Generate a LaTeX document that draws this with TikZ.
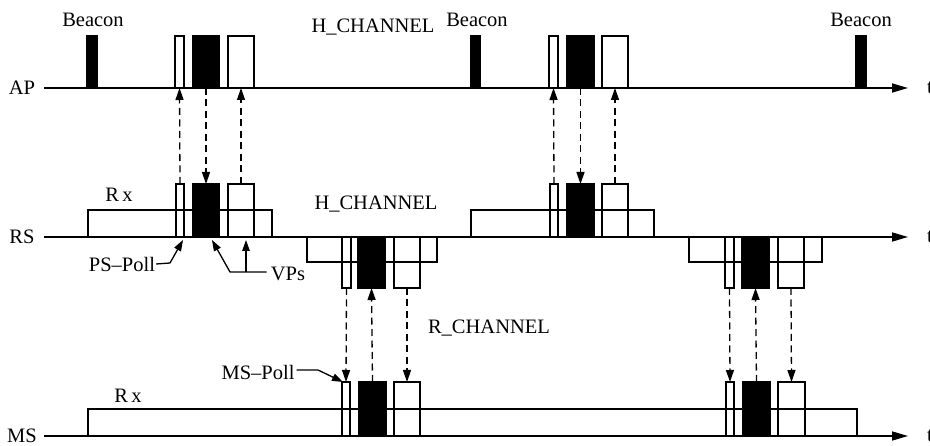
\documentclass[tikz,border=0pt]{standalone}
\usepackage{fontspec}
\setmainfont{Liberation Serif}
\usetikzlibrary{arrows.meta}
\newcommand\pkbox[6]{\node[pkt,#6,minimum width={#3pt-#2pt},minimum height={#5pt-#4pt},anchor=north west] (#1) at (#2,#4) {};}
\begin{document}
\begin{tikzpicture}[x=1pt,y=-1pt,
  lbl/.style={font=\fontsize{20.5}{24}\selectfont, inner sep=0pt},
  pkt/.style={draw, line width=1.4pt, inner sep=0pt, outer sep=0pt},
  blk/.style={fill=black},
  axis/.style={line width=1.6pt, -{Triangle[length=16pt,width=9pt]}},
  dasharr/.style={line width=1.3pt, dash pattern=on 7pt off 4.5pt, -{Triangle[length=12pt,width=8pt]}},
  callout/.style={line width=1.3pt, -{Triangle[length=11pt,width=7.5pt]}}
]
\useasboundingbox (0,0) rectangle (930,446);

% row labels and axes
\node[lbl] (AP) at (22,88) {AP};
\node[lbl] (RS) at (22,237) {RS};
\node[lbl] (MS) at (22,436) {MS};
\coordinate (apS) at (44,88);  \coordinate (apE) at (908,88);
\coordinate (rsS) at (44,237); \coordinate (rsE) at (908,237);
\coordinate (msS) at (44,436); \coordinate (msE) at (908,436);
\node[lbl,anchor=west] (tAP) at (927,88) {t};
\node[lbl,anchor=west] (tRS) at (927,237) {t};
\node[lbl,anchor=west] (tMS) at (927,436) {t};

% Rx / Tx windows
\pkbox{rsrx1}{88}{272}{210}{237}{}
\pkbox{rsrx2}{471}{654}{210}{237}{}
\pkbox{rstx1}{307}{437}{237}{262}{}
\pkbox{rstx2}{689}{822}{237}{262}{}
\pkbox{msrx}{88}{857}{409}{436}{}

\draw[axis] (apS) -- (apE);
\draw[axis] (rsS) -- (rsE);
\draw[axis] (msS) -- (msE);

% AP packets
\pkbox{bc1}{87}{97}{36}{88}{blk}
\pkbox{ap1p}{175}{184}{36}{88}{}
\pkbox{ap1b}{193}{219}{36}{88}{blk}
\pkbox{ap1o}{228}{254}{36}{88}{}
\pkbox{bc2}{471}{480}{36}{88}{blk}
\pkbox{ap2p}{549}{558}{36}{88}{}
\pkbox{ap2b}{567}{594}{36}{88}{blk}
\pkbox{ap2o}{602}{628}{36}{88}{}
\pkbox{bc3}{856}{866}{36}{88}{blk}

% RS packets (H channel)
\pkbox{rs1p}{176}{184}{184}{237}{}
\pkbox{rs1b}{193}{219}{184}{237}{blk}
\pkbox{rs1o}{228}{254}{184}{237}{}
\pkbox{rs2p}{550}{558}{184}{237}{}
\pkbox{rs2b}{567}{594}{184}{237}{blk}
\pkbox{rs2o}{602}{628}{184}{237}{}
% RS packets (R channel)
\pkbox{rs3p}{342}{351}{237}{288}{}
\pkbox{rs3b}{358}{385}{237}{288}{blk}
\pkbox{rs3o}{394}{420}{237}{288}{}
\pkbox{rs4p}{725}{734}{237}{288}{}
\pkbox{rs4b}{742}{769}{237}{288}{blk}
\pkbox{rs4o}{778}{804}{237}{288}{}

% MS packets
\pkbox{ms1p}{342}{350}{382}{436}{}
\pkbox{ms1b}{359}{386}{382}{436}{blk}
\pkbox{ms1o}{394}{420}{382}{436}{}
\pkbox{ms2p}{726}{734}{382}{436}{}
\pkbox{ms2b}{743}{770}{382}{436}{blk}
\pkbox{ms2o}{778}{805}{382}{436}{}

% dashed exchanges AP <-> RS
\draw[dasharr] (rs1p.north) -- (ap1p.south);
\draw[dasharr] (ap1b.south) -- (rs1b.north);
\draw[dasharr] (rs1o.north) -- (ap1o.south);
\draw[dasharr] (rs2p.north) -- (ap2p.south);
\draw[dasharr] (ap2b.south) -- (rs2b.north);
\draw[dasharr] (rs2o.north) -- (ap2o.south);
% dashed exchanges RS <-> MS
\draw[dasharr] (rs3p.south) -- (ms1p.north);
\draw[dasharr] (ms1b.north) -- (rs3b.south);
\draw[dasharr] (rs3o.south) -- (ms1o.north);
\draw[dasharr] (rs4p.south) -- (ms2p.north);
\draw[dasharr] (ms2b.north) -- (rs4b.south);
\draw[dasharr] (rs4o.south) -- (ms2o.north);

% text labels
\node[lbl] (bt1) at (93,20) {Beacon};
\node[lbl] (bt2) at (477,20) {Beacon};
\node[lbl] (bt3) at (861,20) {Beacon};
\node[lbl] (hch1) at (373,27) {H\_CHANNEL};
\node[lbl] (hch2) at (376,204) {H\_CHANNEL};
\node[lbl] (rch) at (489,328) {R\_CHANNEL};
\node[lbl] (rx1) at (119,195) {R\,x};
\node[lbl] (rx2) at (128,396) {R\,x};
\node[lbl] (psp) at (122,264) {PS–Poll};
\node[lbl] (vps) at (288,274) {VPs};
\node[lbl] (msp) at (258,372) {MS–Poll};

% callouts
\coordinate (pspA) at (170,263);
\coordinate (pspT) at (183,240);
\draw[callout] (psp.east) ++(1,0) -- (pspA) -- (pspT);
\coordinate (vpsA) at (230,272);
\coordinate (vpsT) at (212,240);
\coordinate (vpsB) at (246,272);
\coordinate (vpsU) at (246,240);
\draw[callout] (vps.west) ++(-4,-2) -- (vpsA) -- (vpsT);
\draw[callout] (vpsB) -- (vpsU);
\coordinate (mspA) at (318,370);
\coordinate (mspT) at (343,382);
\draw[callout] (msp.east) ++(2,-2) -- (mspA) -- (mspT);
\end{tikzpicture}
\end{document}
